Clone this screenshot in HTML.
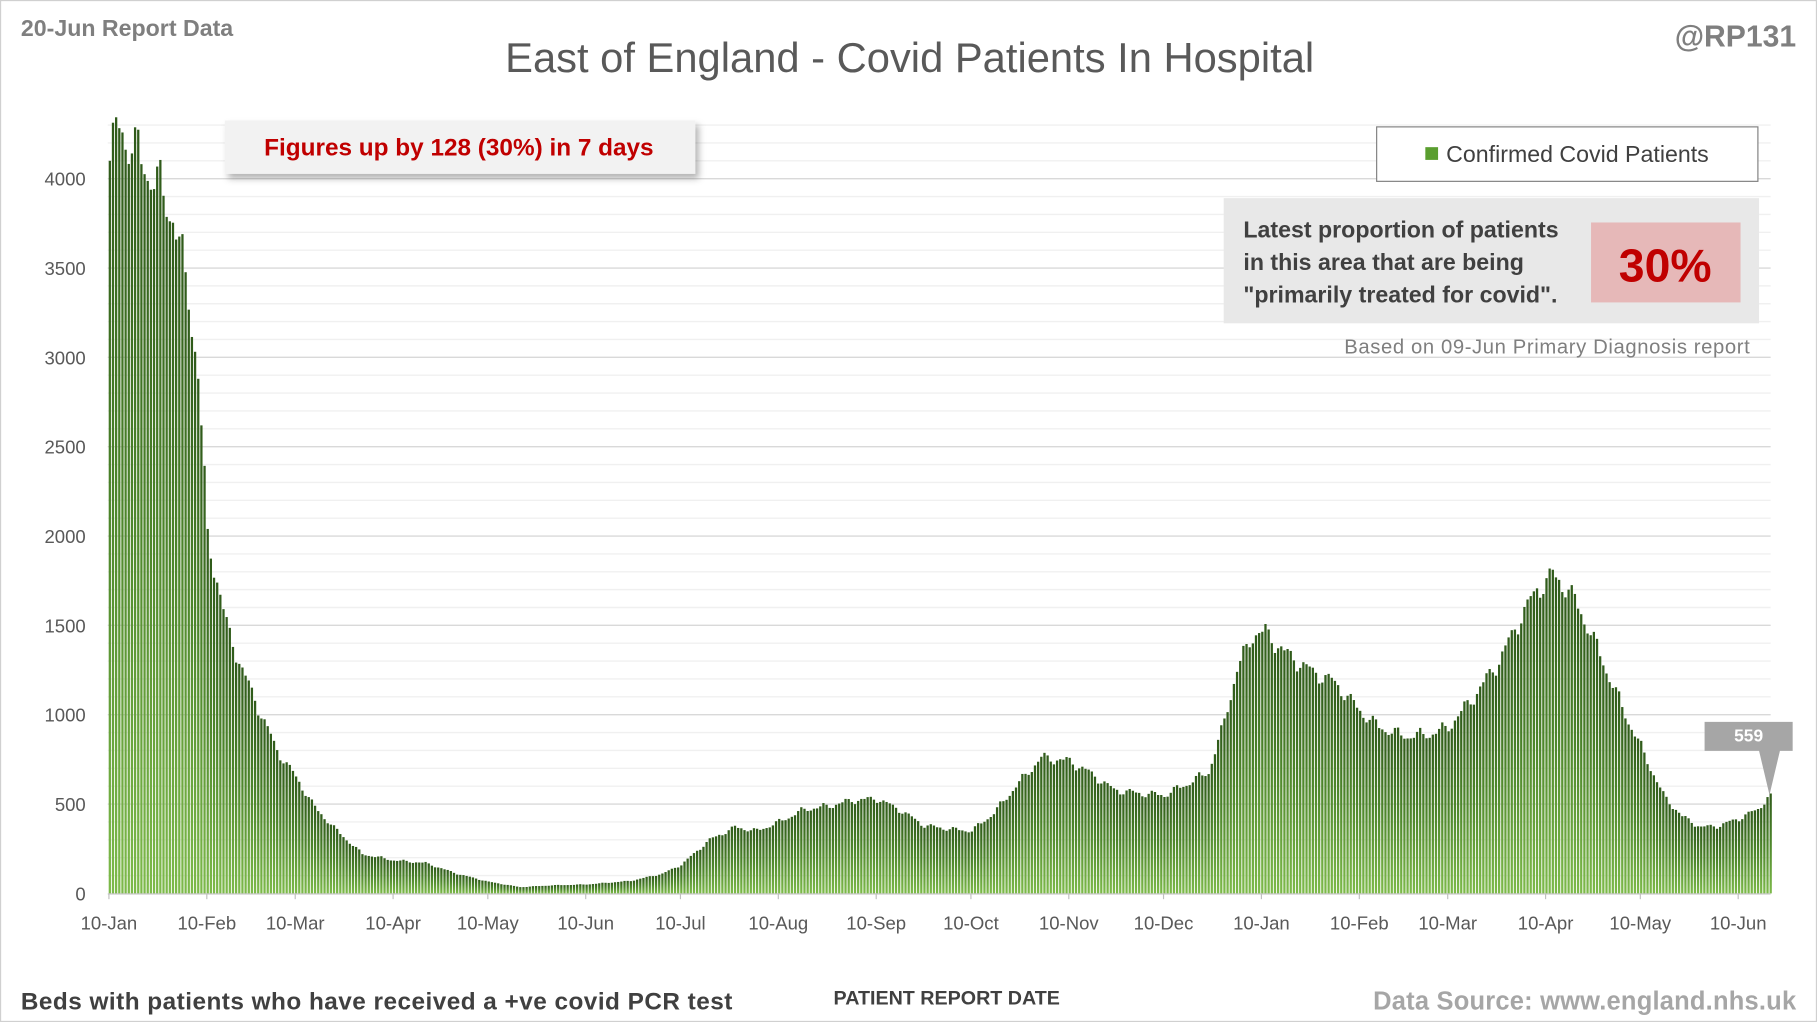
<!DOCTYPE html>
<html><head><meta charset="utf-8"><style>html,body{margin:0;padding:0;background:#fff}svg{display:block}text{font-family:"Liberation Sans",sans-serif}</style></head>
<body>
<svg id="s" width="1817" height="1022" viewBox="0 0 1568 882" preserveAspectRatio="none" xmlns="http://www.w3.org/2000/svg">
<defs>
<linearGradient id="g" x1="0" y1="0" x2="0" y2="1"><stop offset="0" stop-color="#2f5a1a"/><stop offset="0.5" stop-color="#4d862b"/><stop offset="1" stop-color="#7dba4a"/></linearGradient>
<filter id="sh" x="-10%" y="-20%" width="130%" height="160%"><feDropShadow dx="3" dy="4" stdDeviation="3" flood-color="#000" flood-opacity="0.3"/></filter>
</defs>
<rect x="0.5" y="0.5" width="1567" height="881" fill="#fff" stroke="#d0d0d0"/>
<g id="grid"></g>
<g id="bars"></g>
<line x1="93" y1="771.5" x2="1528" y2="771.5" stroke="#bfbfbf"/>
<g id="lab" font-size="16" fill="#595959"></g>
<text x="18" y="31" font-size="20" font-weight="bold" fill="#7f7f7f">20-Jun Report Data</text>
<text x="785" y="62" font-size="36" fill="#595959" text-anchor="middle">East of England - Covid Patients In Hospital</text>
<text x="1550" y="40" font-size="26" font-weight="bold" fill="#7f7f7f" text-anchor="end">@RP131</text>
<rect x="194" y="104" width="406" height="46" fill="#f2f2f2" filter="url(#sh)"/>
<text x="396" y="134" font-size="21" font-weight="bold" fill="#c00000" text-anchor="middle">Figures up by 128 (30%) in 7 days</text>
<rect x="1188" y="109.5" width="329" height="47" fill="#fff" stroke="#7f7f7f"/>
<rect x="1230" y="127" width="11" height="11" fill="#5a9e2f"/>
<text x="1248" y="140" font-size="20" fill="#404040">Confirmed Covid Patients</text>
<rect x="1056" y="171" width="462" height="108" fill="#e8e8e8"/>
<rect x="1373" y="192" width="129" height="69" fill="#e6b8b8"/>
<text x="1437" y="243" font-size="40" font-weight="bold" fill="#c00000" text-anchor="middle">30%</text>
<g font-size="20" font-weight="bold" fill="#404040"><text x="1073" y="205">Latest proportion of patients</text><text x="1073" y="233">in this area that are being</text><text x="1073" y="261">"primarily treated for covid".</text></g>
<text x="1510" y="305" font-size="17.5" fill="#7f7f7f" text-anchor="end" textLength="350">Based on 09-Jun Primary Diagnosis report</text>
<path d="M1471 623 H1547 V648 H1536 L1527 686 L1518 648 H1471 Z" fill="#a6a6a6"/>
<text x="1509" y="640" font-size="15" font-weight="bold" fill="#fff" text-anchor="middle">559</text>
<text x="18" y="871" font-size="21" font-weight="bold" fill="#404040" textLength="614">Beds with patients who have received a +ve covid PCR test</text>
<text x="817" y="867" font-size="17" font-weight="bold" fill="#404040" text-anchor="middle">PATIENT REPORT DATE</text>
<text x="1550" y="871" font-size="22" font-weight="bold" fill="#a6a6a6" text-anchor="end" textLength="365">Data Source: www.england.nhs.uk</text>
</svg>
<script>
var NS="http://www.w3.org/2000/svg";
function el(p,t,a,tx){var e=document.createElementNS(NS,t);for(var k in a)e.setAttribute(k,a[k]);if(tx!=null)e.textContent=tx;document.getElementById(p).appendChild(e);}
var y0=771,k=0.1542;
for(var v=100;v<=4300;v+=100){var y=y0-v*k;el("grid","line",{x1:93,x2:1528,y1:y,y2:y,stroke:v%500==0?"#d9d9d9":"#f0f0f0","stroke-width":1.2});}
for(var v=0;v<=4000;v+=500){el("lab","text",{x:74,y:y0-v*k+6,"text-anchor":"end"},v);}
var xl=[[0,"10-Jan"],[31,"10-Feb"],[59,"10-Mar"],[90,"10-Apr"],[120,"10-May"],[151,"10-Jun"],[181,"10-Jul"],[212,"10-Aug"],[243,"10-Sep"],[273,"10-Oct"],[304,"10-Nov"],[334,"10-Dec"],[365,"10-Jan"],[396,"10-Feb"],[424,"10-Mar"],[455,"10-Apr"],[485,"10-May"],[516,"10-Jun"]];
var px=1406/516;
xl.forEach(function(a){var x=94+a[0]*px;el("lab","text",{x:x,y:802,"text-anchor":"middle"},a[1]);el("lab","line",{x1:x,x2:x,y1:771,y2:776,stroke:"#bfbfbf"});});
var kp=[[0,4100],[3,4300],[8,4150],[14,4000],[20,3800],[25,3350],[28,2900],[31,2000],[37,1500],[42,1250],[48,1000],[53,800],[59,650],[65,480],[72,350],[80,220],[90,185],[100,170],[110,110],[120,65],[130,35],[140,45],[151,50],[165,70],[175,110],[181,160],[190,300],[198,370],[205,350],[212,400],[220,470],[228,490],[235,520],[243,530],[250,470],[258,380],[266,360],[273,350],[280,450],[287,600],[295,760],[304,740],[310,680],[318,580],[326,560],[334,550],[342,620],[348,680],[352,900],[357,1250],[362,1450],[366,1460],[372,1350],[380,1250],[388,1180],[396,1020],[402,930],[410,880],[418,890],[424,930],[432,1100],[440,1300],[447,1550],[452,1700],[457,1780],[462,1700],[468,1500],[474,1250],[480,1000],[486,780],[492,550],[498,430],[504,370],[510,380],[516,420],[522,470],[526,559]];
function val(d){for(var i=1;i<kp.length;i++){if(d<=kp[i][0]){var a=kp[i-1],b=kp[i];return a[1]+(b[1]-a[1])*(d-a[0])/(b[0]-a[0]);}}return 559;}
for(var d=0;d<=526;d++){var v=val(d);if(d<526){var w=[1.0,1.02,1.03,1.01,0.99,0.97,0.98][d%7];v=v*w*(1+0.015*Math.sin(d*1.7));}var h=v*k,x=94+d*px-0.2;
el("bars","rect",{x:x,y:y0-h,width:px*0.72,height:h,fill:"url(#g)"});}
</script>
</body></html>
